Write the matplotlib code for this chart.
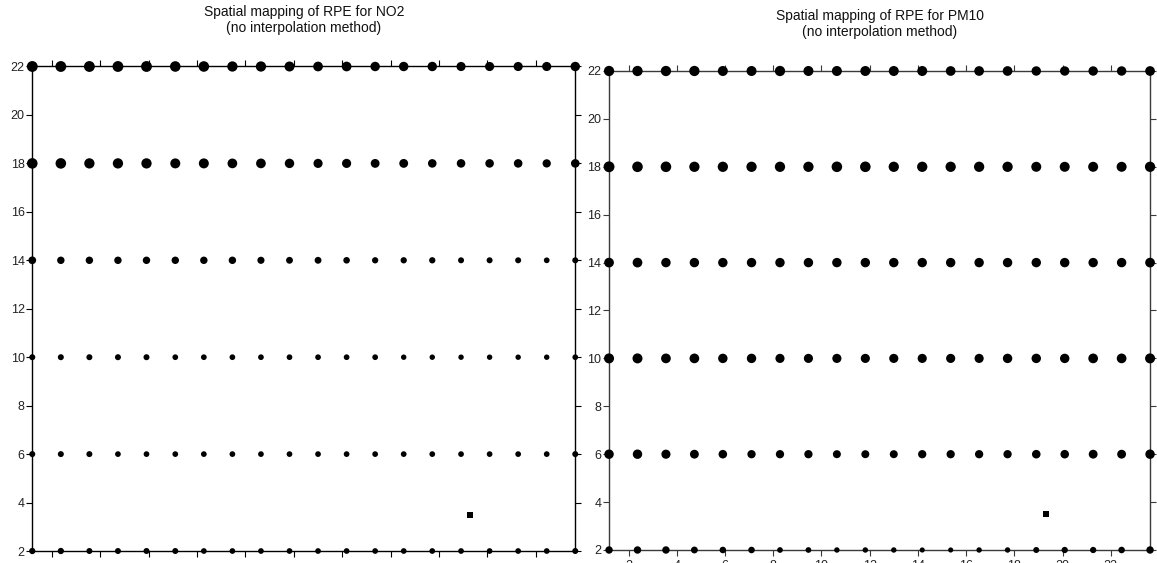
import matplotlib
matplotlib.use("Agg")
import matplotlib.pyplot as plt

plt.rcParams["font.family"] = ["Liberation Sans", "DejaVu Sans"]

# Grid of receptor points (model units)
x_cols = [1.19, 2.37, 3.55, 4.73, 5.91, 7.10, 8.28, 9.46, 10.64, 11.82,
          13.00, 14.18, 15.36, 16.54, 17.72, 18.91, 20.09, 21.27, 22.45, 23.63]
y_rows = [2, 6, 10, 14, 18, 22]

# Relative percentage error (RPE, %) at each grid point, one list per row
no2_y2 = [22, 22, 21, 21, 21, 21, 20, 20, 20, 20, 20, 20, 20, 20, 20, 20, 20, 20, 20, 21]
no2_y6 = [21, 21, 21, 20, 20, 20, 20, 20, 20, 20, 20, 20, 20, 20, 20, 20, 20, 20, 20, 21]
no2_y10 = [21, 21, 21, 21, 21, 20, 20, 20, 20, 20, 20, 20, 20, 19, 19, 19, 19, 19, 19, 20]
no2_y14 = [27, 26, 26, 26, 26, 26, 26, 26, 25, 24, 24, 23, 22, 22, 22, 21, 21, 21, 20, 21]
no2_y18 = [37, 37, 36, 36, 36, 35, 35, 34, 34, 33, 32, 32, 31, 31, 30, 30, 30, 30, 29, 30]
no2_y22 = [38, 38, 38, 38, 38, 37, 37, 36, 36, 35, 34, 34, 33, 33, 33, 32, 32, 32, 32, 33]

pm10_y2 = [26, 26, 26, 24, 23, 23, 20, 20, 19, 19, 19, 18, 18, 19, 19, 21, 22, 22, 23, 26]
pm10_y6 = [33, 33, 32, 31, 30, 29, 29, 29, 28, 28, 28, 29, 29, 29, 29, 30, 30, 31, 31, 33]
pm10_y10 = [35, 35, 34, 34, 33, 33, 32, 32, 32, 32, 32, 32, 32, 32, 33, 33, 33, 34, 34, 35]
pm10_y14 = [34, 34, 33, 33, 33, 33, 33, 33, 33, 33, 33, 33, 33, 33, 33, 33, 33, 33, 33, 34]
pm10_y18 = [38, 37, 37, 36, 36, 36, 36, 36, 37, 37, 36, 36, 36, 36, 36, 35, 35, 35, 35, 36]
pm10_y22 = [36, 36, 36, 36, 35, 35, 36, 35, 35, 35, 35, 35, 34, 34, 34, 33, 33, 33, 33, 34]

# Monitoring station location and its RPE
station_x = 19.3
station_y = 3.5
no2_station = 20
pm10_station = 24

ticks = list(range(2, 23, 2))

DPI = 100
fig = plt.figure(figsize=(11.57, 5.63), dpi=DPI)


def marker_area(rpe):
    # marker diameter in pixels grows linearly with RPE
    d_pt = rpe / 3.5 * 72.0 / DPI
    return d_pt ** 2


def draw_panel(ax, rows, station_rpe, title, spine_color, show_xlabels):
    for y, vals in zip(y_rows, rows):
        ax.scatter(x_cols, [y] * len(x_cols), s=[marker_area(v) for v in vals],
                   c="black", linewidths=0, zorder=5, clip_on=False)
    ax.scatter([station_x], [station_y], s=[marker_area(station_rpe)], c="black",
               marker="s", linewidths=0, zorder=5, clip_on=False)
    ax.set_xlim(x_cols[0], x_cols[-1])
    ax.set_ylim(y_rows[0], y_rows[-1])
    ax.set_xticks(ticks)
    ax.set_yticks(ticks)
    for sp in ax.spines.values():
        sp.set_color(spine_color)
        sp.set_linewidth(1.0)
    ax.tick_params(axis="both", direction="out", length=4, width=0.8,
                   color=spine_color, labelsize=9, labelcolor="#222222", pad=1.5)
    ax.tick_params(axis="x", top=True, bottom=True, labelbottom=show_xlabels,
                   labeltop=False, length=4, pad=3.5)
    ax.tick_params(axis="y", left=True, right=True, labelleft=True,
                   labelright=False)
    ax.set_title(title, fontsize=10, pad=25, color="#111111", linespacing=1.2)


ax1 = fig.add_axes([0.0279, 0.0213, 0.4693, 0.8606])
draw_panel(ax1, [no2_y2, no2_y6, no2_y10, no2_y14, no2_y18, no2_y22], no2_station,
           "Spatial mapping of RPE for NO2\n(no interpolation method)", "black", False)

ax2 = fig.add_axes([0.5264, 0.0231, 0.4676, 0.8508])
draw_panel(ax2, [pm10_y2, pm10_y6, pm10_y10, pm10_y14, pm10_y18, pm10_y22], pm10_station,
           "Spatial mapping of RPE for PM10\n(no interpolation method)", "#3a3a3a", True)

fig.savefig("out.png", dpi=DPI)
